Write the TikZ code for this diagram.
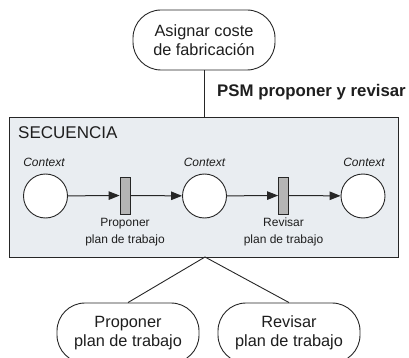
\documentclass[tikz,border=0pt]{standalone}
\usepackage{fontspec}
\setmainfont{Liberation Sans}
\usetikzlibrary{arrows.meta}
\definecolor{ln}{HTML}{262626}
\definecolor{boxfill}{HTML}{E9EDF1}
\definecolor{trfill}{HTML}{B5B5B5}
\definecolor{txt}{HTML}{1E1E1E}
\begin{document}
\begin{tikzpicture}[x=1pt,y=-1pt,
  task/.style={draw=ln, line width=0.9pt, fill=white, rounded corners=28pt,
    minimum width=142pt, minimum height=60pt, align=center, text=txt,
    font=\fontsize{16.3}{19}\selectfont, inner sep=0pt},
  place/.style={circle, draw=ln, line width=0.9pt, fill=white, minimum size=44pt, inner sep=0pt},
  trans/.style={draw=ln, line width=0.8pt, fill=trfill, minimum width=10pt,
    minimum height=37pt, inner sep=0pt},
  ctx/.style={font=\fontsize{12}{14}\selectfont\itshape, text=txt, inner sep=0pt},
  lbl/.style={align=center, font=\fontsize{12}{17}\selectfont, text=txt, inner sep=0pt},
  arr/.style={draw=ln, line width=1pt, -{Triangle[length=11pt,width=8.5pt]}},
  conn/.style={draw=ln, line width=0.9pt}]
\useasboundingbox (0,0) rectangle (409,358);
\clip (0,0) rectangle (409,358);

% top task
\node[task] (top) at (204,40) {Asignar coste\\de fabricación};

% sequence container
\node[draw=ln, line width=0.9pt, fill=boxfill, minimum width=389pt, minimum height=140pt,
  anchor=north west, inner sep=0pt] (seq) at (9,117) {};
\node[anchor=west, inner sep=0pt, text=txt, font=\fontsize{17}{20}\selectfont] (seqlbl) at (18,133) {SECUENCIA};

\coordinate (topin) at (seq.north -| top.south);
\draw[conn] (top.south) -- (topin);
\node[anchor=west, inner sep=0pt, text=txt, font=\fontsize{16.8}{20}\selectfont\bfseries] (psm) at (217,92) {PSM proponer y revisar};

% places
\node[place] (p1) at (45.5,196) {};
\node[place] (p2) at (204.5,196) {};
\node[place] (p3) at (363,196) {};
\node[ctx] (c1) at (44,162) {Context};
\node[ctx] (c2) at (204.5,162) {Context};
\node[ctx] (c3) at (364,162) {Context};

% transitions
\node[trans] (t1) at (125,195.5) {};
\node[trans] (t2) at (283.5,195.5) {};
\node[lbl, anchor=north] (l1) at (125,218) {Proponer\\plan de trabajo};
\node[lbl, anchor=north] (l2) at (283.5,218) {Revisar\\plan de trabajo};

\draw[arr] (p1) -- (t1);
\draw[arr] (t1) -- (p2);
\draw[arr] (p2) -- (t2);
\draw[arr] (t2) -- (p3);

% bottom tasks
\node[task] (b1) at (128,333) {Proponer\\plan de trabajo};
\node[task] (b2) at (289,333) {Revisar\\plan de trabajo};
\coordinate (apex) at (205,257);
\draw[conn] (b1.north) -- (apex) -- (b2.north);
\end{tikzpicture}
\end{document}
